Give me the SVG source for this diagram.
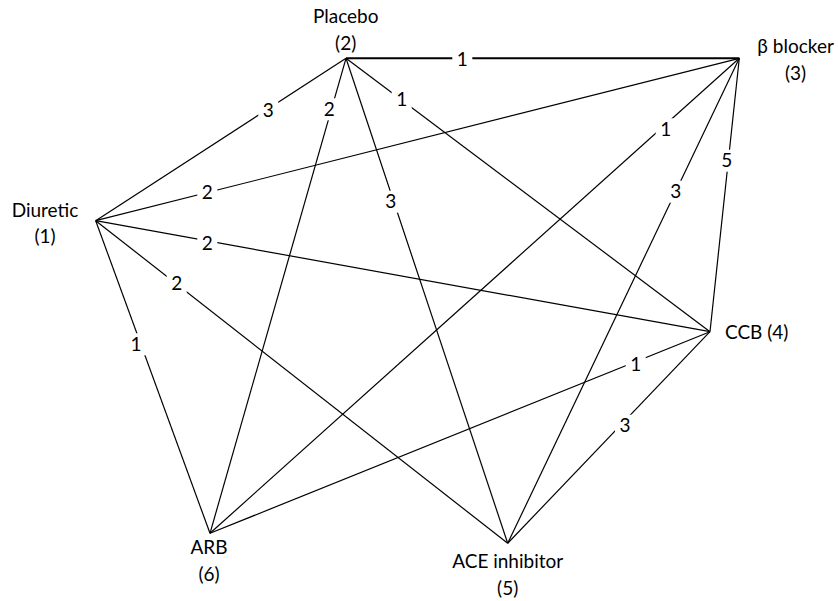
<svg xmlns="http://www.w3.org/2000/svg" width="838" height="601" viewBox="0 0 838 601">
<style>
  .e { stroke: #000; stroke-width: 1.2; fill: none; }
  .t { font-family: Lato, "Open Sans", sans-serif; font-size: 19px; fill: #000; }
  .m { text-anchor: middle; }
  .bg { fill: #fff; }
</style>
<rect width="838" height="601" fill="#fff"/>
<g id="connectors">
  <line class="e" x1="95.7" y1="220.7" x2="346" y2="58.3"/>
  <line class="e" x1="95.7" y1="220.7" x2="739.3" y2="58.3"/>
  <line class="e" x1="95.7" y1="220.7" x2="710" y2="331.7"/>
  <line class="e" x1="95.7" y1="220.7" x2="507.7" y2="543.3"/>
  <line class="e" x1="95.7" y1="220.7" x2="210" y2="533.3"/>
  <line class="e" x1="346" y1="58.3" x2="739.3" y2="58.3" style="stroke-width:2"/>
  <line class="e" x1="346" y1="58.3" x2="710" y2="331.7"/>
  <line class="e" x1="346" y1="58.3" x2="507.7" y2="543.3"/>
  <line class="e" x1="346" y1="58.3" x2="210" y2="533.3"/>
  <line class="e" x1="739.3" y1="58.3" x2="710" y2="331.7"/>
  <line class="e" x1="739.3" y1="58.3" x2="507.7" y2="543.3"/>
  <line class="e" x1="739.3" y1="58.3" x2="210" y2="533.3"/>
  <line class="e" x1="710" y1="331.7" x2="507.7" y2="543.3"/>
  <line class="e" x1="710" y1="331.7" x2="210" y2="533.3"/>
  <g id="edge-labels">
    <rect class="bg" x="258.3" y="99" width="20" height="22"/><text class="t m" x="268.3" y="116.8">3</text>
    <rect class="bg" x="197.3" y="180.7" width="20" height="22"/><text class="t m" x="207.3" y="198.5">2</text>
    <rect class="bg" x="197.3" y="232.3" width="20" height="22"/><text class="t m" x="207.3" y="250">2</text>
    <rect class="bg" x="166.7" y="272.3" width="20" height="22"/><text class="t m" x="176.7" y="290">2</text>
    <rect class="bg" x="126" y="333.3" width="20" height="22"/><text class="t m" x="136" y="351">1</text>
    <rect class="bg" x="452.3" y="48" width="20" height="22"/><text class="t m" x="462.3" y="65.8">1</text>
    <rect class="bg" x="391.7" y="88.3" width="20" height="22"/><text class="t m" x="401.7" y="106">1</text>
    <rect class="bg" x="380.7" y="190.7" width="20" height="22"/><text class="t m" x="390.7" y="208.4">3</text>
    <rect class="bg" x="319.3" y="98.3" width="20" height="22"/><text class="t m" x="329.3" y="116">2</text>
    <rect class="bg" x="716.7" y="149.7" width="20" height="22"/><text class="t m" x="726.7" y="167.4">5</text>
    <rect class="bg" x="665.7" y="180.7" width="20" height="22"/><text class="t m" x="675.7" y="198.4">3</text>
    <rect class="bg" x="655.7" y="118.3" width="20" height="22"/><text class="t m" x="665.7" y="136">1</text>
    <rect class="bg" x="615" y="414.7" width="20" height="22"/><text class="t m" x="625" y="432.4">3</text>
    <rect class="bg" x="625.7" y="353" width="20" height="22"/><text class="t m" x="635.7" y="370.7">1</text>
  </g>
</g>
<g id="node-1">
  <text class="t m" x="45" y="216.7">Diuretic</text>
  <text class="t m" x="45" y="243">(1)</text>
</g>
<g id="node-2">
  <text class="t m" x="345.7" y="23.3">Placebo</text>
  <text class="t m" x="345.7" y="49.5">(2)</text>
</g>
<g id="node-3">
  <text class="t m" x="795.6" y="53.3">β blocker</text>
  <text class="t m" x="795.6" y="80">(3)</text>
</g>
<g id="node-4">
  <text class="t" x="725" y="339.3">CCB (4)</text>
</g>
<g id="node-5">
  <text class="t m" x="507.7" y="568.3">ACE inhibitor</text>
  <text class="t m" x="507.7" y="595">(5)</text>
</g>
<g id="node-6">
  <text class="t m" x="209" y="554">ARB</text>
  <text class="t m" x="209" y="580.5">(6)</text>
</g>
</svg>
